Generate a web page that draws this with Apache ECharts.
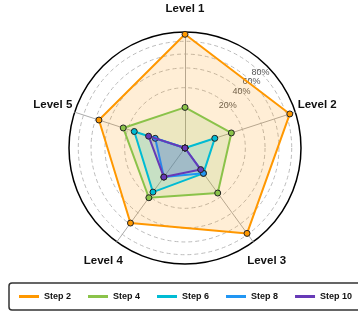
<!DOCTYPE html>
<html>
<head>
<meta charset="utf-8">
<script src="https://cdn.jsdelivr.net/npm/echarts@6/dist/echarts.min.js"></script>
<style>
html,body{margin:0;padding:0;background:#fff;}
#chart{width:358px;height:316px;}
</style>
</head>
<body>
<div id="chart"></div>
<script>
const levels = ['Level 1', 'Level 2', 'Level 3', 'Level 4', 'Level 5'];
const steps = ['Step 2', 'Step 4', 'Step 6', 'Step 8', 'Step 10'];
const step2 = [98, 95, 91, 80, 78];
const step4 = [35, 42, 48, 53, 56];
const step6 = [0, 27, 27, 47, 46];
const step8 = [0, 0, 27, 31, 27];
const step10 = [0, 0, 23, 31, 33];
const ringTicks = [52, 69, 81, 92];
const ringLabels = ['20%', '40%', '60%', '80%'];

const colors = ['#FF9800', '#8BC34A', '#00BCD4', '#2196F3', '#673AB7'];
const values = [step2, step4, step6, step8, step10];

// ECharts lays radar indicators counter-clockwise; walk them in reverse to get a clockwise layout
const order = [0, 4, 3, 2, 1];

const C = [185, 148];
const R = 116;

const mainRadar = {
  center: C, radius: R, shape: 'circle', startAngle: 90, splitNumber: 1,
  indicator: order.map(k => ({ name: levels[k], min: 0, max: 100 })),
  axisName: {
    color: '#111', fontWeight: 'bold', fontSize: 11.5,
    fontFamily: 'Liberation Sans, Arial, sans-serif',
    align: 'center', verticalAlign: 'middle'
  },
  nameGap: 23,
  axisLine: { lineStyle: { color: '#aaaaaa', width: 1 } },
  splitLine: { lineStyle: { color: '#000', width: 1.5 } },
  splitArea: { show: false },
  axisTick: { show: false },
  axisLabel: { show: false }
};

const ringRadars = ringTicks.map((t, i) => ({
  center: C, radius: R * t / 100, shape: 'circle', startAngle: 45, splitNumber: 1,
  indicator: [{ name: '', min: 0, max: 100 }],
  axisName: { show: false },
  axisLine: { show: false },
  axisTick: { show: false },
  splitLine: { lineStyle: { color: '#bbbbbb', type: [4, 3], width: 1 } },
  splitArea: { show: false },
  axisLabel: {
    show: true, margin: 0, align: 'center', verticalAlign: 'middle',
    color: '#555', fontSize: 9, fontFamily: 'Liberation Sans, Arial, sans-serif',
    formatter: v => (v === 100 ? ringLabels[i] : '')
  }
}));

const series = steps.map((s, i) => ({
  type: 'radar',
  name: s,
  radarIndex: 0,
  z: 2 + i,
  symbol: 'circle',
  symbolSize: 6,
  lineStyle: { color: colors[i], width: 2 },
  itemStyle: { color: colors[i], borderColor: '#222', borderWidth: 1 },
  areaStyle: { color: colors[i], opacity: 0.16 },
  data: [{ name: s, value: order.map(k => values[i][k]) }]
}));

const chart = echarts.init(document.getElementById('chart'), null, { renderer: 'canvas' });
chart.setOption({
  animation: false,
  color: colors,
  radar: [mainRadar].concat(ringRadars),
  legend: {
    data: steps,
    left: 9, top: 283, width: 380,
    orient: 'horizontal',
    padding: [9, 10, 9, 10],
    itemGap: 17,
    itemWidth: 20, itemHeight: 3,
    icon: 'rect',
    itemStyle: { borderWidth: 0 },
    borderColor: '#333', borderWidth: 1.5, borderRadius: 3,
    textStyle: { fontSize: 9, fontWeight: 'bold', color: '#111', fontFamily: 'Liberation Sans, Arial, sans-serif' }
  },
  series: series
});
</script>
</body>
</html>
